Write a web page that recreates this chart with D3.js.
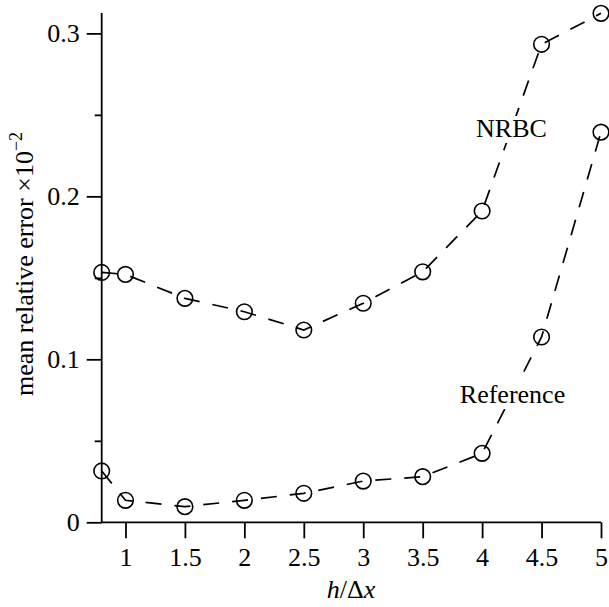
<!DOCTYPE html>
<html>
<head>
<meta charset="utf-8">
<script src="https://cdn.jsdelivr.net/npm/d3@7"></script>
<style>
  body { margin: 0; background: #fff; }
  text { font-family: "Liberation Serif", "DejaVu Serif", serif; fill: #000; }
</style>
</head>
<body>
<div id="chart"></div>
<script>
const width = 609;
const height = 607;

// data
const hRatio = [0.8, 1, 1.5, 2, 2.5, 3, 3.5, 4, 4.5, 5];
const nrbc = [0.1533, 0.1521, 0.1374, 0.1292, 0.118, 0.1344, 0.1537, 0.191, 0.2933, 0.3123];
const reference = [0.0315, 0.0135, 0.0096, 0.0135, 0.0178, 0.0253, 0.028, 0.0423, 0.1137, 0.2394];
const xTicks = [1, 1.5, 2, 2.5, 3, 3.5, 4, 4.5, 5];
const yMajor = [0, 0.1, 0.2, 0.3];
const yMinor = [0.05, 0.15, 0.25];

let x = d3.scaleLinear().domain([0.8, 5]).range([101.7, 601]);
let y = d3.scaleLinear().domain([0, 0.3125]).range([522.3, 13]);

let svg = d3.select('#chart')
    .append('svg')
    .attr('width', width)
    .attr('height', height);

// x axis
let xAxis = svg.append('g')
    .attr('transform', `translate(0, ${y(0)})`)
    .call(d3.axisBottom(x).tickValues(xTicks).tickSize(16).tickPadding(9)
        .tickFormat(d3.format('~g')));
xAxis.select('.domain').attr('d', `M${x(0.8)},0H${x(5)}`);

// y axis, major + minor
let yAxis = svg.append('g')
    .attr('transform', `translate(${x(0.8)}, 0)`)
    .call(d3.axisLeft(y).tickValues(yMajor).tickSize(15).tickPadding(7)
        .tickFormat(d3.format('~g')));
yAxis.select('.domain').attr('d', `M0,${y(0.3125)}V${y(0)}`);
svg.append('g')
    .attr('transform', `translate(${x(0.8)}, 0)`)
    .call(d3.axisLeft(y).tickValues(yMinor).tickSize(7).tickFormat(''))
    .select('.domain').remove();

svg.selectAll('.domain, .tick line')
    .attr('stroke', '#000')
    .attr('stroke-width', 1.8);
svg.selectAll('.tick text')
    .style('font-size', '26px')
    .style('font-family', '"Liberation Serif", "DejaVu Serif", serif');

// series
let line = d3.line()
    .x((d, i) => x(hRatio[i]))
    .y(d => y(d));

for (const series of [nrbc, reference]) {
    svg.append('path')
        .datum(series)
        .attr('d', line)
        .attr('fill', 'none')
        .attr('stroke', '#000')
        .attr('stroke-width', 1.7)
        .attr('stroke-dasharray', '16,13');
    svg.append('g')
        .selectAll('circle')
        .data(series)
        .enter()
        .append('circle')
        .attr('cx', (d, i) => x(hRatio[i]))
        .attr('cy', d => y(d))
        .attr('r', 7.8)
        .attr('fill', 'none')
        .attr('stroke', '#000')
        .attr('stroke-width', 1.6);
}

// series labels on a white box
function seriesLabel(txt, cx, cy) {
    let g = svg.append('g');
    let t = g.append('text')
        .attr('x', cx).attr('y', cy)
        .attr('text-anchor', 'middle')
        .style('font-size', '26px')
        .text(txt);
    let b = t.node().getBBox();
    g.insert('rect', 'text')
        .attr('x', b.x - 3).attr('y', b.y + 2)
        .attr('width', b.width + 6).attr('height', b.height - 2)
        .attr('fill', '#fff');
}
seriesLabel('NRBC', 511.5, 137);
seriesLabel('Reference', 512.5, 403);

// axis titles
let xt = svg.append('text')
    .attr('x', 351).attr('y', 598)
    .attr('text-anchor', 'middle')
    .style('font-size', '26px');
xt.append('tspan').style('font-style', 'italic').text('h');
xt.append('tspan').text('/Δ');
xt.append('tspan').style('font-style', 'italic').text('x');

let yt = svg.append('text')
    .attr('transform', 'translate(33, 264) rotate(-90)')
    .attr('text-anchor', 'middle')
    .style('font-size', '26px');
yt.append('tspan').text('mean relative error ×10');
yt.append('tspan').attr('dy', -11).style('font-size', '18px').text('−2');
</script>
</body>
</html>
